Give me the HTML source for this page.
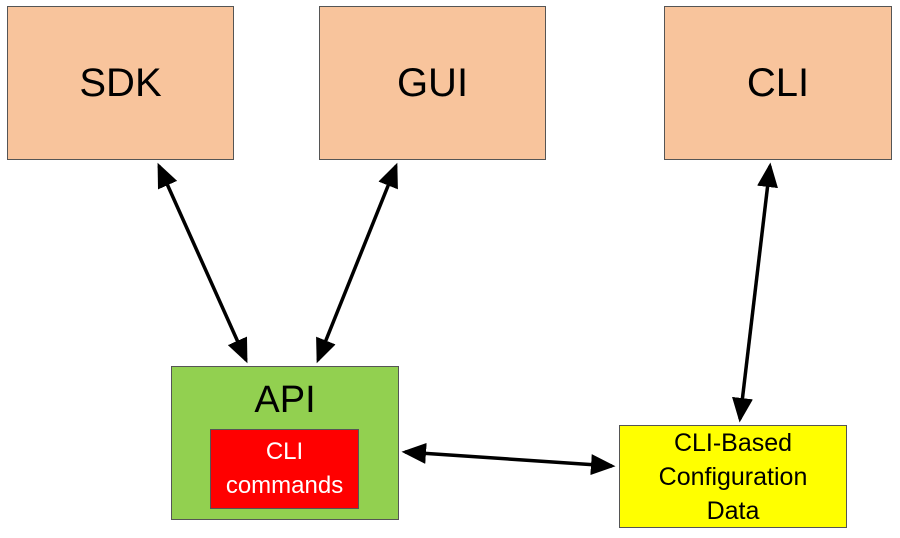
<!DOCTYPE html>
<html><head><style>
body{margin:0;width:900px;height:538px;background:#fff;overflow:hidden;font-family:"Liberation Sans",sans-serif}
.b{position:absolute;box-sizing:border-box;border:1px solid #555;display:flex;align-items:center;justify-content:center;text-align:center;color:#000}
.t{background:#f8c49c;font-size:40px}
</style></head><body>
<div class="b t" style="left:7px;top:6px;width:227px;height:154px">SDK</div>
<div class="b t" style="left:319px;top:6px;width:227px;height:154px">GUI</div>
<div class="b t" style="left:664px;top:6px;width:228px;height:154px">CLI</div>
<div class="b" style="left:171px;top:366px;width:228px;height:154px;background:#92d050;align-items:flex-start;font-size:38px;padding-top:12px">API</div>
<div class="b" style="left:210px;top:429px;width:149px;height:80px;background:#f00;color:#fff;font-size:24px;line-height:34px">CLI<br>commands</div>
<div class="b" style="left:619px;top:425px;width:228px;height:103px;background:#ff0;font-size:25px;line-height:34px">CLI-Based<br>Configuration<br>Data</div>
<svg width="900" height="538" style="position:absolute;left:0;top:0">
<defs><marker id="a" markerWidth="7" markerHeight="6" refX="6" refY="3" orient="auto-start-reverse" markerUnits="strokeWidth"><path d="M0,0L7,3L0,6z" fill="#000"/></marker></defs>
<g stroke="#000" stroke-width="3.5" marker-start="url(#a)" marker-end="url(#a)">
<line x1="159" y1="166" x2="246" y2="360"/>
<line x1="396" y1="166" x2="318" y2="360"/>
<line x1="770" y1="166" x2="740" y2="419"/>
<line x1="405" y1="452" x2="612" y2="466"/>
</g></svg>
</body></html>
